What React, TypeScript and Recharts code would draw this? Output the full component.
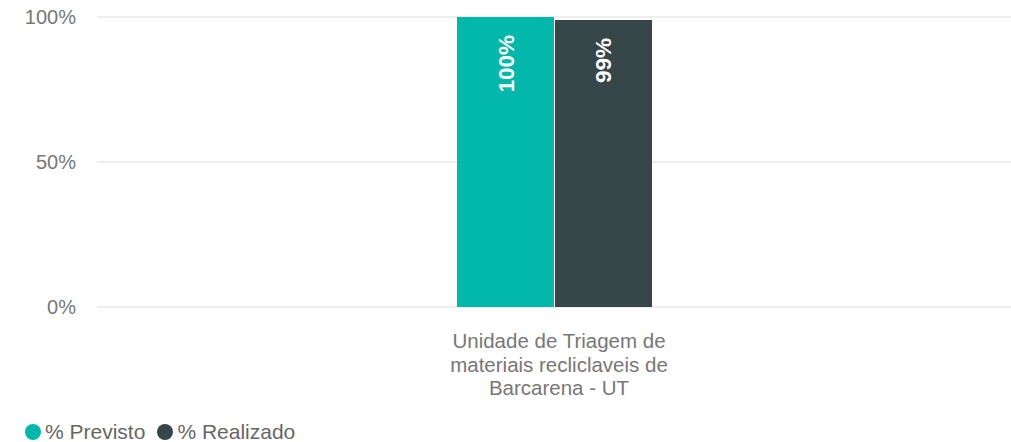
import React from 'react';
import { BarChart, Bar, XAxis, YAxis, CartesianGrid, LabelList } from 'recharts';

const categories = ['Unidade de Triagem de|materiais recliclaveis de|Barcarena - UT'];
const previsto = [100];
const realizado = [99];
const yTicks = [0, 50, 100];

const colors = { previsto: '#01B8AA', realizado: '#374649' };
const font = '"Liberation Sans", Arial, sans-serif';

const data = categories.map((c, i) => ({
  name: c,
  previsto: previsto[i],
  realizado: realizado[i],
}));

function CategoryTick(props: any) {
  const { x, y, payload } = props;
  const lines = String(payload.value).split('|');
  return (
    <text x={x + 5} y={y} textAnchor="middle" fill="#777" fontSize={20.5} fontFamily={font}>
      {lines.map((l, i) => (
        <tspan key={i} x={x + 5} dy={i === 0 ? 33 : 23.5}>
          {l}
        </tspan>
      ))}
    </text>
  );
}

function BarValue(props: any) {
  const { x, y, width, value } = props;
  const cx = x + width / 2 + 8;
  const ty = y + 18;
  return (
    <text
      x={cx}
      y={ty}
      transform={`rotate(-90 ${cx} ${ty})`}
      textAnchor="end"
      fill="#fff"
      fontSize={22.5}
      fontWeight="bold"
      fontFamily={font}
    >
      {value}%
    </text>
  );
}

function LegendBox() {
  const items = [
    { label: '% Previsto', color: colors.previsto },
    { label: '% Realizado', color: colors.realizado },
  ];
  return (
    <div
      style={{
        position: 'absolute',
        left: 25,
        top: 420,
        display: 'flex',
        alignItems: 'center',
        fontFamily: font,
        fontSize: 21,
        color: '#666',
        lineHeight: '24px',
      }}
    >
      {items.map((it) => (
        <div key={it.label} style={{ display: 'flex', alignItems: 'center', marginRight: 12 }}>
          <span
            style={{ width: 16, height: 16, borderRadius: '50%', background: it.color, display: 'inline-block', marginRight: 4 }}
          />
          <span>{it.label}</span>
        </div>
      ))}
    </div>
  );
}

export default function App() {
  return (
    <div style={{ position: 'absolute', left: 0, top: 0, width: 1011, height: 442, background: '#fff', overflow: 'hidden' }}>
      <BarChart
        width={1011}
        height={442}
        data={data}
        margin={{ top: 17, right: 0, left: 0, bottom: 105 }}
        barGap={1}
      >
        <CartesianGrid vertical={false} stroke="#e8e8e8" strokeWidth={1.5} />
        <XAxis dataKey="name" height={30} axisLine={false} tickLine={false} tick={<CategoryTick />} interval={0} />
        <YAxis
          domain={[0, 100]}
          ticks={yTicks}
          width={97}
          axisLine={false}
          tickLine={false}
          tickMargin={15}
          tickFormatter={(v) => `${v}%`}
          tick={{ fill: '#777', fontSize: 20, fontFamily: font }}
        />
        <Bar dataKey="previsto" fill={colors.previsto} barSize={97} isAnimationActive={false}>
          <LabelList dataKey="previsto" content={<BarValue />} />
        </Bar>
        <Bar dataKey="realizado" fill={colors.realizado} barSize={97} isAnimationActive={false}>
          <LabelList dataKey="realizado" content={<BarValue />} />
        </Bar>
      </BarChart>
      <LegendBox />
    </div>
  );
}
